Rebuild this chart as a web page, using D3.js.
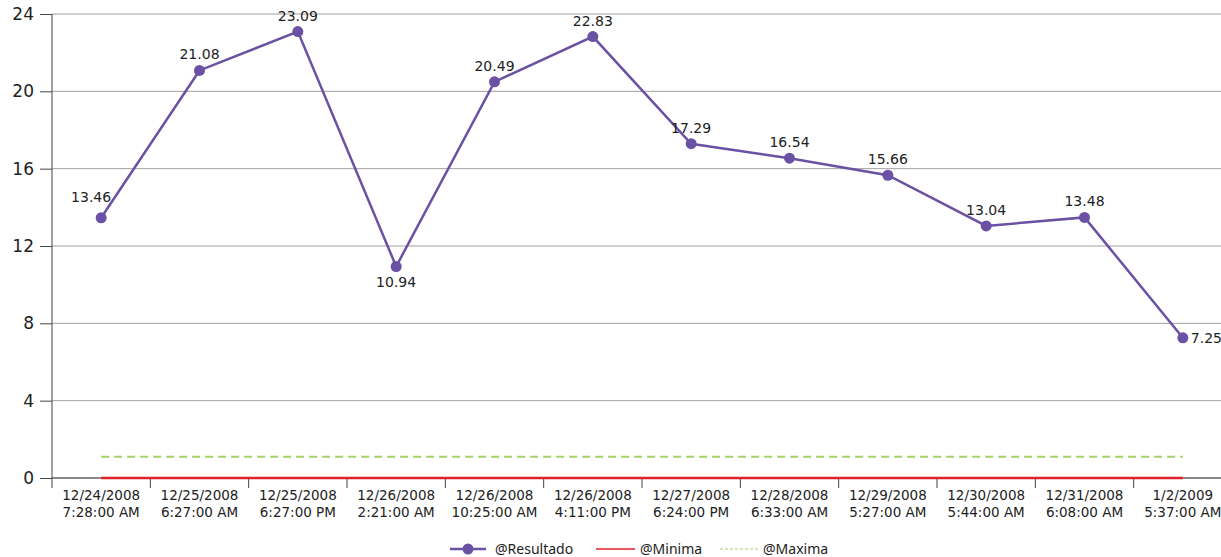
<!DOCTYPE html>
<html>
<head>
<meta charset="utf-8">
<script src="https://cdn.jsdelivr.net/npm/d3@7"></script>
<style>
  body { margin: 0; background: #fff; }
  svg { display: block; font-family: "Noto Sans", sans-serif; }
</style>
</head>
<body>
<div id="chart"></div>
<script>
// categories (two-line labels)
const dates = ['12/24/2008', '12/25/2008', '12/25/2008', '12/26/2008', '12/26/2008', '12/26/2008',
  '12/27/2008', '12/28/2008', '12/29/2008', '12/30/2008', '12/31/2008', '1/2/2009'];
const times = ['7:28:00 AM', '6:27:00 AM', '6:27:00 PM', '2:21:00 AM', '10:25:00 AM', '4:11:00 PM',
  '6:24:00 PM', '6:33:00 AM', '5:27:00 AM', '5:44:00 AM', '6:08:00 AM', '5:37:00 AM'];
const resultado = [13.46, 21.08, 23.09, 10.94, 20.49, 22.83, 17.29, 16.54, 15.66, 13.04, 13.48, 7.25];
const minima = [0, 0, 0, 0, 0, 0, 0, 0, 0, 0, 0, 0];
const maxima = [1.1, 1.1, 1.1, 1.1, 1.1, 1.1, 1.1, 1.1, 1.1, 1.1, 1.1, 1.1];
const yTicks = [0, 4, 8, 12, 16, 20, 24];

const width = 1221;
const height = 557;
const margin = { top: 14, right: -11, bottom: 79, left: 52 };
const purple = '#6a51a3';
const labelFont = '"DejaVu Sans", sans-serif';

const svg = d3.select('#chart')
  .append('svg')
  .attr('width', width)
  .attr('height', height);

const cats = d3.range(dates.length);

const xScale = d3.scaleBand()
  .domain(cats)
  .range([margin.left, width - margin.right]);

const yScale = d3.scaleLinear()
  .domain([0, 24])
  .range([height - margin.bottom, margin.top]);

const xc = i => xScale(i) + xScale.bandwidth() / 2;

// Grid lines
svg.append('g')
  .selectAll('line')
  .data(yTicks)
  .enter()
  .append('line')
  .attr('x1', margin.left)
  .attr('x2', width)
  .attr('y1', d => yScale(d))
  .attr('y2', d => yScale(d))
  .attr('stroke', '#a0a0a0')
  .attr('stroke-width', 1);

// Y axis
const yAxis = svg.append('g')
  .attr('transform', `translate(${margin.left},0)`)
  .call(d3.axisLeft(yScale).tickValues(yTicks).tickSize(12).tickPadding(6).tickSizeOuter(0));
yAxis.select('.domain').remove();
yAxis.selectAll('.tick line').attr('stroke', '#444');
yAxis.selectAll('text').attr('font-size', 17).attr('fill', '#222')
  .attr('font-family', labelFont);
svg.append('line')
  .attr('x1', margin.left).attr('x2', margin.left)
  .attr('y1', margin.top).attr('y2', yScale(0) + 10)
  .attr('stroke', '#444');

// X axis: ticks at band boundaries
const xAxisG = svg.append('g')
  .attr('transform', `translate(0,${yScale(0)})`);
xAxisG.append('line')
  .attr('x1', margin.left).attr('x2', width)
  .attr('stroke', '#444');
xAxisG.selectAll('.xtick')
  .data(cats.slice(1))
  .enter()
  .append('line')
  .attr('x1', d => xScale(d)).attr('x2', d => xScale(d))
  .attr('y1', 0).attr('y2', 10)
  .attr('stroke', '#444');
const xl = xAxisG.selectAll('.xlab')
  .data(cats)
  .enter()
  .append('text')
  .attr('x', d => xc(d))
  .attr('text-anchor', 'middle')
  .attr('font-size', 13.5)
  .attr('font-family', labelFont)
  .attr('fill', '#222');
xl.append('tspan').attr('x', d => xc(d)).attr('y', 22).text(d => dates[d]);
xl.append('tspan').attr('x', d => xc(d)).attr('y', 39).text(d => times[d]);

// Maxima (dashed)
const line = vals => d3.line().x((d, i) => xc(i)).y(d => yScale(d))(vals);
svg.append('path')
  .attr('d', line(maxima))
  .attr('fill', 'none')
  .attr('stroke', '#a3d16b')
  .attr('stroke-width', 2)
  .attr('stroke-dasharray', '8,5');

// Minima
svg.append('path')
  .attr('d', line(minima))
  .attr('fill', 'none')
  .attr('stroke', '#e0202a')
  .attr('stroke-width', 2.5);

// Resultado
svg.append('path')
  .attr('d', line(resultado))
  .attr('fill', 'none')
  .attr('stroke', purple)
  .attr('stroke-width', 2.5);

svg.selectAll('.pt')
  .data(resultado)
  .enter()
  .append('circle')
  .attr('cx', (d, i) => xc(i))
  .attr('cy', d => yScale(d))
  .attr('r', 5.5)
  .attr('fill', purple);

// Data labels
const labelPos = (d, i) => {
  if (i === 3) return { dx: 0, dy: 21, anchor: 'middle' };
  if (i === resultado.length - 1) return { dx: 8, dy: 5, anchor: 'start' };
  if (i === 0) return { dx: -10, dy: -16, anchor: 'middle' };
  return { dx: 0, dy: -11, anchor: 'middle' };
};
svg.selectAll('.lbl')
  .data(resultado)
  .enter()
  .append('text')
  .attr('x', (d, i) => xc(i) + labelPos(d, i).dx)
  .attr('y', (d, i) => yScale(d) + labelPos(d, i).dy)
  .attr('text-anchor', (d, i) => labelPos(d, i).anchor)
  .attr('font-size', 14)
  .attr('font-family', labelFont)
  .attr('fill', '#222')
  .text(d => d.toFixed(2));

// Legend
const legend = svg.append('g').attr('transform', `translate(0, 549)`);
legend.append('line')
  .attr('x1', 450).attr('x2', 486)
  .attr('stroke', purple).attr('stroke-width', 2.5);
legend.append('circle')
  .attr('cx', 468).attr('r', 5.5).attr('fill', purple);
legend.append('text')
  .attr('x', 495).attr('y', 5).attr('font-size', 14).attr('fill', '#222')
  .text('@Resultado');
legend.append('line')
  .attr('x1', 596).attr('x2', 635)
  .attr('stroke', '#e0202a').attr('stroke-width', 1.5);
legend.append('text')
  .attr('x', 640).attr('y', 5).attr('font-size', 14).attr('fill', '#222')
  .text('@Minima');
legend.append('line')
  .attr('x1', 720).attr('x2', 758)
  .attr('stroke', '#a3d16b').attr('stroke-width', 1.2)
  .attr('stroke-dasharray', '3,2');
legend.append('text')
  .attr('x', 763).attr('y', 5).attr('font-size', 14).attr('fill', '#222')
  .text('@Maxima');
</script>
</body>
</html>
